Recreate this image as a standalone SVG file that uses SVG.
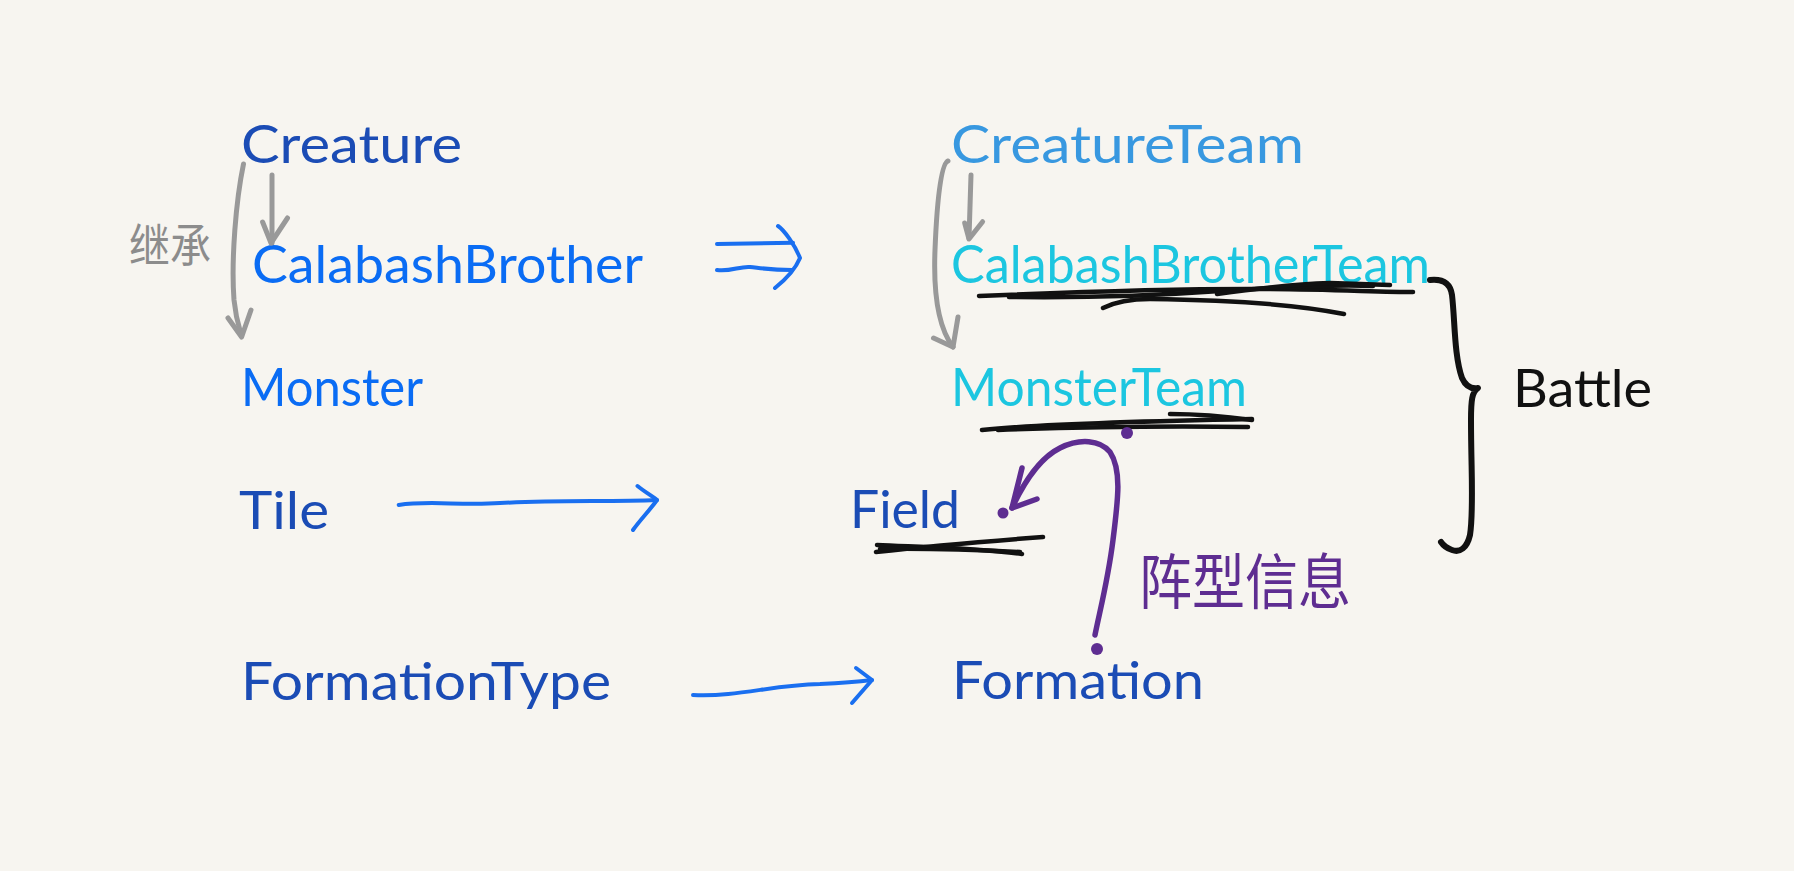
<svg xmlns="http://www.w3.org/2000/svg" width="1794" height="871" viewBox="0 0 1794 871">
<style>
.t{font-family:Lato,"Open Sans","Liberation Sans",sans-serif;font-size:53px;}
.dk{fill:#1b4cb5}.br{fill:#0a6cf4}.sk{fill:#3898e0}.cy{fill:#1cc6e0}.bk{fill:#111}
.cjk{font-family:"Noto Sans CJK SC","Liberation Sans",sans-serif;}
.gray{fill:none;stroke:#999;stroke-width:5;stroke-linecap:round;stroke-linejoin:round}
.blue{fill:none;stroke:#1a6ff0;stroke-width:4;stroke-linecap:round;stroke-linejoin:round}
.purp{fill:none;stroke:#5e2d91;stroke-width:5.5;stroke-linecap:round;stroke-linejoin:round}
.ink{fill:none;stroke:#111;stroke-width:4.5;stroke-linecap:round;stroke-linejoin:round}
.dot{fill:#5e2d91}
</style>
<rect width="1794" height="871" fill="#f7f5f0"/>

<g id="creature"><text class="t dk" x="241" y="163" textLength="221" lengthAdjust="spacingAndGlyphs">Creature</text></g>
<g id="calabashbrother"><text class="t br" x="252" y="283" textLength="391" lengthAdjust="spacingAndGlyphs">CalabashBrother</text></g>
<g id="monster"><text class="t br" x="241" y="406" textLength="182" lengthAdjust="spacingAndGlyphs">Monster</text></g>
<g id="tile"><text class="t dk" x="239" y="529" textLength="90" lengthAdjust="spacingAndGlyphs">Tile</text></g>
<g id="formationtype"><text class="t dk" x="241" y="700" textLength="370" lengthAdjust="spacingAndGlyphs">FormationType</text></g>

<g id="creatureteam"><text class="t sk" x="951" y="163" textLength="353" lengthAdjust="spacingAndGlyphs">CreatureTeam</text></g>
<g id="calabashbrotherteam">
<text class="t cy" x="951" y="283" textLength="479" lengthAdjust="spacingAndGlyphs">CalabashBrotherTeam</text>
<path class="ink" d="M979,296 C1050,293 1150,289 1250,289 C1320,289 1380,292 1413,292"/>
<path class="ink" d="M1009,297 C1080,298 1150,296 1220,291 C1290,287 1340,284 1373,286"/>
<path class="ink" d="M1103,308 C1115,302 1130,299 1150,299 C1230,300 1300,305 1344,314"/>
<path class="ink" d="M1217,294 C1260,288 1300,284 1330,283 L1390,285"/>
</g>
<g id="monsterteam">
<text class="t cy" x="951" y="406" textLength="296" lengthAdjust="spacingAndGlyphs">MonsterTeam</text>
<path class="ink" d="M982,430 C1040,424 1150,421 1252,419"/>
<path class="ink" d="M998,430 C1080,427 1180,426 1248,427"/>
<path class="ink" d="M1170,414 C1200,414 1230,417 1252,420"/>
</g>
<g id="field">
<text class="t dk" x="850" y="528" textLength="110" lengthAdjust="spacingAndGlyphs">Field</text>
<path class="ink" d="M876,552 C930,546 990,541 1043,537"/>
<path class="ink" d="M877,545 C920,547 980,548 1022,554"/>
<path class="ink" d="M880,549 C940,548 1000,551 1020,552"/>
</g>
<g id="formation"><text class="t dk" x="952" y="699" textLength="252" lengthAdjust="spacingAndGlyphs">Formation</text></g>
<g id="battle">
<path class="ink" style="stroke-width:6" d="M1430,280 C1440,279 1450,281 1452,295 C1455,320 1454,355 1462,378 C1466,387 1472,389 1478,388 C1472,392 1471,400 1471,420 C1471,470 1474,510 1470,535 C1467,548 1460,553 1452,550 C1446,548 1443,545 1441,542"/>
<text class="t bk" x="1513" y="407" textLength="139" lengthAdjust="spacingAndGlyphs">Battle</text>
</g>

<g id="connectors">
<path class="gray" d="M243.5,164 C236,200 231,260 234,300 C236,320 240,330 241.6,336"/>
<path class="gray" d="M228,318 L241.6,337 L251,310"/>
<path class="gray" d="M272,175 L272,243"/>
<path class="gray" d="M262.6,222 L271,243 L287.5,218"/>
<text class="cjk" x="129" y="262" font-size="46" fill="#8c8c8c" textLength="82" lengthAdjust="spacingAndGlyphs">继承</text>

<path class="gray" d="M948,161 C941,163 937,200 935,250 C933,300 940,330 953,347"/>
<path class="gray" d="M933.5,338 L953,347 L958,317"/>
<path class="gray" d="M971,175 L969,238"/>
<path class="gray" d="M964.7,223 L969,239 L982.6,221.7"/>

<path class="blue" d="M717,244 L793,242.7"/>
<path class="blue" d="M717,270 C730,272 740,266 750,267 C760,268 770,270 792,270"/>
<path class="blue" d="M778,226 C784,230 795,245 800,258 C795,270 785,280 775,288"/>

<path class="blue" d="M398.7,505 C430,500 460,506 500,503 C560,500 610,502 657,500"/>
<path class="blue" d="M637.5,486 C645,492 652,496 657,500 C650,510 640,520 633,530"/>

<path class="blue" d="M693,695 C740,697 770,685 820,684 C840,683 855,682 872,680"/>
<path class="blue" d="M856,668 L872,680 L852,703"/>

<path class="purp" d="M1095,635 C1100,610 1108,580 1113,540 C1118,500 1122,470 1110,452 C1100,440 1080,438 1060,448 C1040,458 1025,480 1012,508"/>
<path class="purp" d="M1022,468 L1012,508 L1037,499"/>
<circle class="dot" cx="1127" cy="433" r="6"/>
<circle class="dot" cx="1003" cy="513" r="5.5"/>
<circle class="dot" cx="1097" cy="649" r="6"/>
<text class="cjk" x="1139" y="604" font-size="60" fill="#5e2d91" textLength="212" lengthAdjust="spacingAndGlyphs">阵型信息</text>
</g>
</svg>
